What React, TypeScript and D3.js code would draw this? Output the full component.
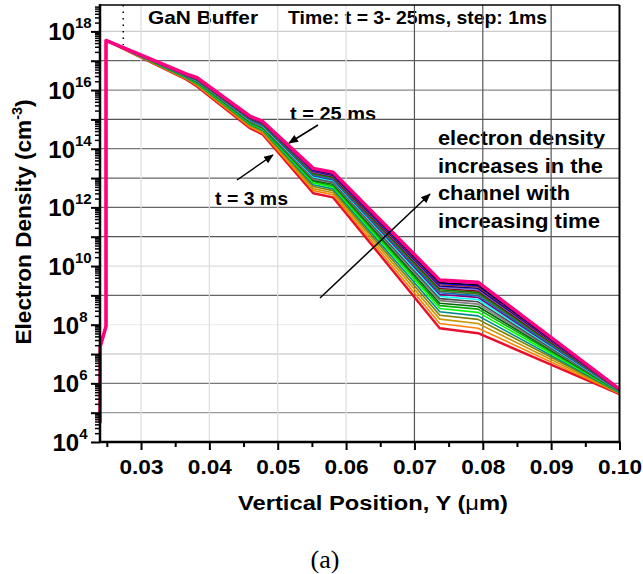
import React, { useEffect, useRef } from "react";
import * as d3 from "d3";

// ---------- data ----------
const TIMES_MS = [3, 4, 5, 6, 7, 8, 9, 10, 11, 12, 13, 14, 15, 16, 17, 18, 19, 20, 21, 22, 23, 24, 25];

// vertical position (um) of each vertex of the profiles
const POSITION_UM = [0.02488, 0.0366, 0.0382, 0.046, 0.0478, 0.0552, 0.0581, 0.0737, 0.0793, 0.1];

// shared left tail of every profile (surface region)
const TAIL_POSITION_UM = [0.024, 0.02402, 0.02488];
const TAIL_LOG10_DENSITY = [4.65, 7.25, 7.95];

// log10 of electron density (cm^-3), one row per time step (3 ms ... 25 ms)
const LOG10_DENSITY = [
  [17.69, 16.36, 16.12, 14.69, 14.49, 12.48, 12.34, 7.88, 7.71, 5.63],
  [17.69, 16.38, 16.15, 14.73, 14.53, 12.57, 12.43, 8.04, 7.88, 5.65],
  [17.69, 16.4, 16.18, 14.77, 14.57, 12.64, 12.5, 8.19, 8.04, 5.66],
  [17.69, 16.41, 16.2, 14.8, 14.61, 12.71, 12.57, 8.32, 8.18, 5.68],
  [17.69, 16.42, 16.22, 14.83, 14.64, 12.77, 12.63, 8.44, 8.3, 5.69],
  [17.69, 16.44, 16.24, 14.86, 14.67, 12.83, 12.69, 8.55, 8.42, 5.7],
  [17.69, 16.45, 16.26, 14.88, 14.7, 12.88, 12.74, 8.65, 8.53, 5.71],
  [17.69, 16.46, 16.28, 14.9, 14.72, 12.92, 12.79, 8.73, 8.62, 5.72],
  [17.69, 16.47, 16.29, 14.92, 14.74, 12.96, 12.83, 8.82, 8.7, 5.73],
  [17.69, 16.48, 16.3, 14.94, 14.76, 13.0, 12.87, 8.89, 8.78, 5.73],
  [17.69, 16.49, 16.32, 14.96, 14.78, 13.04, 12.91, 8.96, 8.86, 5.74],
  [17.69, 16.49, 16.33, 14.98, 14.8, 13.08, 12.94, 9.03, 8.93, 5.75],
  [17.69, 16.5, 16.34, 14.99, 14.81, 13.1, 12.97, 9.09, 8.99, 5.75],
  [17.69, 16.51, 16.35, 15.01, 14.83, 13.13, 13.0, 9.14, 9.05, 5.76],
  [17.69, 16.51, 16.36, 15.02, 14.84, 13.16, 13.03, 9.19, 9.1, 5.77],
  [17.69, 16.52, 16.37, 15.03, 14.86, 13.19, 13.05, 9.24, 9.15, 5.77],
  [17.69, 16.52, 16.38, 15.04, 14.87, 13.21, 13.08, 9.28, 9.2, 5.78],
  [17.69, 16.53, 16.38, 15.05, 14.88, 13.23, 13.1, 9.32, 9.24, 5.78],
  [17.69, 16.53, 16.39, 15.06, 14.89, 13.25, 13.12, 9.36, 9.29, 5.78],
  [17.69, 16.54, 16.4, 15.07, 14.9, 13.27, 13.14, 9.41, 9.33, 5.79],
  [17.69, 16.54, 16.41, 15.08, 14.91, 13.29, 13.16, 9.44, 9.36, 5.79],
  [17.69, 16.55, 16.41, 15.09, 14.92, 13.31, 13.18, 9.48, 9.41, 5.8],
  [17.69, 16.55, 16.42, 15.1, 14.93, 13.33, 13.2, 9.52, 9.45, 5.8],
];

const X_TICKS = [0.03, 0.04, 0.05, 0.06, 0.07, 0.08, 0.09, 0.1];
const X_MINOR_TICKS = [0.025, 0.035, 0.045, 0.055, 0.065, 0.075, 0.085, 0.095];
const Y_DECADES = [4, 5, 6, 7, 8, 9, 10, 11, 12, 13, 14, 15, 16, 17, 18];
const Y_LABEL_DECADES = [4, 6, 8, 10, 12, 14, 16, 18];

const TITLE_LEFT = "GaN Buffer";
const TITLE_RIGHT = "Time: t = 3- 25ms, step: 1ms";
const NOTE_LINES = ["electron density", "increases in the", "channel with", "increasing time"];

// ---------- styles ----------
const FONT = "'Liberation Sans', Arial, Helvetica, sans-serif";
const SERIES_COLORS = [
  "#e8112d", "#ff8000", "#c89600", "#808000", "#008b8b", "#00ff00", "#00b000", "#006400",
  "#808080", "#4d4d4d", "#00ffff", "#800080", "#0070c0", "#556b2f", "#008000", "#8b0000",
  "#7b68ee", "#000080", "#a52a2a", "#0000ff", "#000000", "#ff00ff", "#ff0080",
];
const H_GRID_SHADE: Record<number, string> = {
  5: "#999", 6: "#777", 7: "#bbb", 8: "#eee", 9: "#666", 10: "#ddd", 11: "#555",
  12: "#666", 13: "#666", 14: "#777", 15: "#555", 16: "#888", 17: "#666", 18: "#ccc",
};
const V_GRID_SHADE: Record<string, string> = {
  "0.03": "#ddd", "0.04": "#ddd", "0.05": "#ddd", "0.06": "#ddd", "0.07": "#555", "0.08": "#555", "0.09": "#555",
};

const W = 643;
const H = 574;
const L = 100;
const R = 619.5;
const T = 5;
const B = 442;

export default function App() {
  const gx = useRef<SVGGElement>(null);
  const gxMinor = useRef<SVGGElement>(null);
  const gy = useRef<SVGGElement>(null);
  const gyMinor = useRef<SVGGElement>(null);

  const x = d3.scaleLinear().domain([0.024, 0.1]).range([L, R]);
  const y = d3.scaleLog().domain([1e4, Math.pow(10, 18.9)]).range([B, T]);

  const yMinor: number[] = [];
  Y_DECADES.forEach((d) => {
    for (let m = 2; m <= 9; m++) {
      const v = m * Math.pow(10, d);
      if (v < Math.pow(10, 18.9)) yMinor.push(v);
    }
  });

  useEffect(() => {
    const ax = d3.axisBottom(x).tickValues(X_TICKS).tickSize(8).tickSizeOuter(0).tickFormat(d3.format(".2f"));
    const sx = d3.select(gx.current!);
    sx.call(ax as any);
    sx.select(".domain").remove();
    sx.selectAll("line").attr("stroke", "#000").attr("stroke-width", 2);
    sx.selectAll("text")
      .attr("y", 32)
      .attr("dy", null)
      .attr("fill", "#000")
      .attr("font-size", 20)
      .attr("font-weight", "bold")
      .attr("font-family", FONT)
      .attr("textLength", 44)
      .attr("lengthAdjust", "spacingAndGlyphs");

    const axm = d3.axisBottom(x).tickValues(X_MINOR_TICKS).tickSize(5).tickSizeOuter(0).tickFormat(() => "");
    const sxm = d3.select(gxMinor.current!);
    sxm.call(axm as any);
    sxm.select(".domain").remove();
    sxm.selectAll("line").attr("stroke", "#000").attr("stroke-width", 2);

    const ay = d3.axisLeft(y).tickValues(Y_DECADES.map((d) => Math.pow(10, d))).tickSize(9).tickSizeOuter(0).tickFormat(() => "");
    const sy = d3.select(gy.current!);
    sy.call(ay as any);
    sy.select(".domain").remove();
    sy.selectAll("line").attr("stroke", "#000").attr("stroke-width", 2);

    const aym = d3.axisLeft(y).tickValues(yMinor).tickSize(5).tickSizeOuter(0).tickFormat(() => "");
    const sym = d3.select(gyMinor.current!);
    sym.call(aym as any);
    sym.select(".domain").remove();
    sym.selectAll("line").attr("stroke", "#000").attr("stroke-width", 1.5);
  }, []);

  const line = d3
    .line<[number, number]>()
    .x((d) => x(d[0]))
    .y((d) => y(Math.pow(10, d[1])));

  const seriesPaths = LOG10_DENSITY.map((row, i) => {
    const pts: [number, number][] = [
      ...TAIL_POSITION_UM.map((p, k) => [p, TAIL_LOG10_DENSITY[k]] as [number, number]),
      ...POSITION_UM.map((p, k) => [p, row[k]] as [number, number]),
    ];
    return { t: TIMES_MS[i], d: line(pts) || "" };
  });

  const textStyle = { fontFamily: FONT, fontWeight: "bold" as const, fill: "#000" };

  return (
    <svg width={W} height={H} style={{ position: "absolute", left: 0, top: 0, background: "#fff" }}>
      <defs>
        <marker id="ah" viewBox="0 0 12 10" refX="11" refY="5" markerWidth="12" markerHeight="8" markerUnits="userSpaceOnUse" orient="auto">
          <path d="M0,0 L12,5 L0,10 z" fill="#000" />
        </marker>
      </defs>
      <rect x={0} y={0} width={W} height={H} fill="#fff" />

      {/* titles & notes */}
      <text x={148} y={24} fontSize={19} textLength={110} lengthAdjust="spacingAndGlyphs" {...textStyle}>{TITLE_LEFT}</text>
      <text x={288} y={24} fontSize={19} textLength={259} lengthAdjust="spacingAndGlyphs" {...textStyle}>{TITLE_RIGHT}</text>
      {NOTE_LINES.map((s, i) => (
        <text key={s} x={438} y={145 + i * 27.7} fontSize={20} textLength={[167, 165, 132, 162][i]} lengthAdjust="spacingAndGlyphs" {...textStyle}>{s}</text>
      ))}
      <text x={290} y={120} fontSize={19} textLength={86} lengthAdjust="spacingAndGlyphs" {...textStyle}>t = 25 ms</text>
      <text x={215} y={205} fontSize={19} textLength={73} lengthAdjust="spacingAndGlyphs" {...textStyle}>t = 3 ms</text>

      {/* grid */}
      {Y_DECADES.filter((d) => d > 4).map((d) => (
        <line key={"h" + d} x1={L} x2={R} y1={y(Math.pow(10, d))} y2={y(Math.pow(10, d))} stroke={H_GRID_SHADE[d]} strokeWidth={1.2} />
      ))}
      {X_TICKS.filter((v) => v < 0.1).map((v) => (
        <line key={"v" + v} x1={x(v)} x2={x(v)} y1={T} y2={B} stroke={V_GRID_SHADE[v.toFixed(2)]} strokeWidth={1.2} />
      ))}
      <line x1={x(0.0274)} x2={x(0.0274)} y1={T} y2={45} stroke="#000" strokeWidth={1.5} strokeDasharray="1.5,5" />

      {/* curves */}
      <g fill="none" strokeLinejoin="round">
        {seriesPaths.map((s, i) => (
          <path
            key={s.t}
            d={s.d}
            stroke={SERIES_COLORS[i]}
            strokeWidth={i === 0 ? 2.5 : i === seriesPaths.length - 1 ? 3.5 : 1.6}
          />
        ))}
      </g>

      {/* arrows */}
      <line x1={318} y1={125} x2={289} y2={143} stroke="#000" strokeWidth={1.5} markerEnd="url(#ah)" />
      <line x1={237} y1={180} x2={273} y2={155} stroke="#000" strokeWidth={1.5} markerEnd="url(#ah)" />
      <line x1={320} y1={298} x2={430} y2={194} stroke="#000" strokeWidth={1.5} markerEnd="url(#ah)" />

      {/* frame */}
      <line x1={L} x2={R} y1={T} y2={T} stroke="#000" strokeWidth={1.5} />
      <line x1={R} x2={R} y1={T} y2={B} stroke="#000" strokeWidth={2} />
      <g ref={gx} transform={`translate(0,${B})`} />
      <g ref={gxMinor} transform={`translate(0,${B})`} />
      <g ref={gy} transform={`translate(${L},0)`} />
      <g ref={gyMinor} transform={`translate(${L},0)`} />
      <line x1={L} x2={R + 1} y1={B} y2={B} stroke="#000" strokeWidth={2.5} />
      <line x1={L} x2={L} y1={T - 1} y2={B + 1} stroke="#000" strokeWidth={2.5} />

      {/* y tick labels */}
      {Y_LABEL_DECADES.map((d) => (
        <text key={"yl" + d} x={70} y={y(Math.pow(10, d)) + 9} textAnchor="middle" {...textStyle}>
          <tspan fontSize={24}>10</tspan>
          <tspan fontSize={15} dy={-12}>{d}</tspan>
        </text>
      ))}

      {/* axis titles */}
      <text x={373} y={510} textAnchor="middle" fontSize={20} textLength={270} lengthAdjust="spacingAndGlyphs" {...textStyle}>
        Vertical Position, Y (<tspan fontWeight="normal">μ</tspan>m)
      </text>
      <text
        transform="translate(31,222) rotate(-90)"
        textAnchor="middle"
        fontSize={22}
        textLength={245}
        lengthAdjust="spacingAndGlyphs"
        {...textStyle}
      >
        Electron Density (cm<tspan fontSize={14} dy={-9}>-3</tspan><tspan dy={9}>)</tspan>
      </text>

      <text x={325} y={568} textAnchor="middle" fontSize={26} fontFamily="'Liberation Serif', 'Times New Roman', serif" fill="#000">
        (a)
      </text>
    </svg>
  );
}
